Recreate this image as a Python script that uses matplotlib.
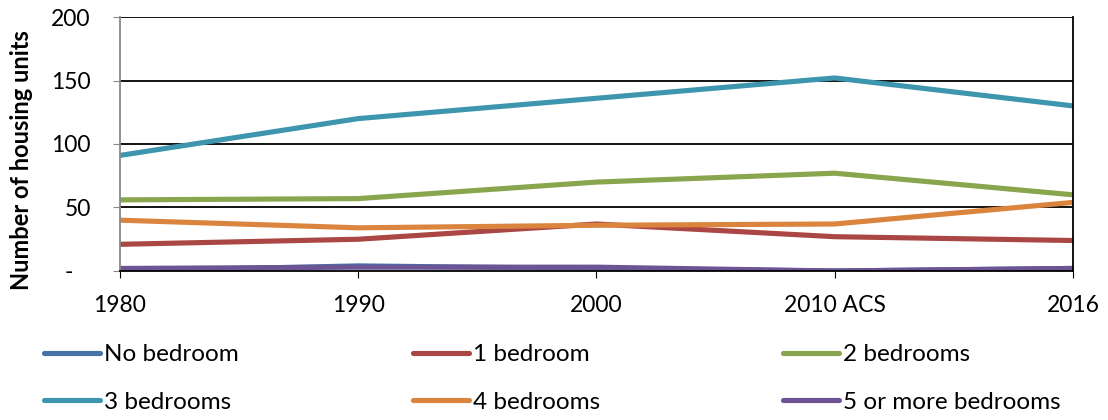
import matplotlib.pyplot as plt
from matplotlib.lines import Line2D
import numpy as np

plt.rcParams['font.family'] = ['Lato', 'DejaVu Sans']

years = ["1980", "1990", "2000", "2010 ACS", "2016"]

no_bedroom = [0, 4, 2, 0, 2]
one_bedroom = [21, 25, 37, 27, 24]
two_bedrooms = [56, 57, 70, 77, 60]
three_bedrooms = [91, 120, 136, 152, 130]
four_bedrooms = [40, 34, 36, 37, 54]
five_plus = [2, 3, 3, 0, 2]

series = [
    ("No bedroom", no_bedroom, "#4572A7"),
    ("1 bedroom", one_bedroom, "#AA4643"),
    ("2 bedrooms", two_bedrooms, "#89A54E"),
    ("3 bedrooms", three_bedrooms, "#3D96AE"),
    ("4 bedrooms", four_bedrooms, "#DB843D"),
    ("5 or more bedrooms", five_plus, "#6D5494"),
]

fig = plt.figure(figsize=(11.08, 4.2), dpi=100)
ax = fig.add_axes([0.1083, 0.3548, 0.86, 0.6047])

x = np.arange(len(years))
handles = []
for label, vals, color in series:
    ax.plot(x, vals, color=color, lw=3.7, solid_capstyle='butt')
    handles.append(Line2D([], [], color=color, lw=3.7, solid_capstyle='round', label=label))

ax.set_xlim(0, len(years) - 1)
ax.set_ylim(0, 200)
ax.set_yticks([0, 50, 100, 150, 200])
ax.set_yticklabels(["-   ", "50", "100", "150", "200"])
ax.set_xticks(x)
ax.set_xticklabels(years)
ax.tick_params(axis='both', labelsize=16.5)
ax.tick_params(axis='y', color='#888888', length=5, pad=16)
ax.tick_params(axis='x', color='black', length=5, pad=12)

for yv in [50, 100, 150, 200]:
    ax.axhline(yv, color='black', lw=1.3, zorder=0)

ax.spines['top'].set_visible(False)
ax.spines['left'].set_color('#888888')
ax.spines['left'].set_linewidth(1.3)
ax.spines['right'].set_color('black')
ax.spines['right'].set_linewidth(1.3)
ax.spines['bottom'].set_color('black')
ax.spines['bottom'].set_linewidth(1.3)

ax.set_ylabel("Number of housing units", fontsize=17, fontweight='bold')
ax.yaxis.set_label_coords(-0.0913, 0.437)

# legend: three columns, two rows, placed like the original
col_x = [44, 413, 783]
for k, cx in enumerate(col_x):
    leg = fig.legend(handles=[handles[k], handles[k + 3]], loc='center left',
                     bbox_to_anchor=(cx / 1108, 1 - 378.5 / 420), frameon=False,
                     fontsize=17.5, handlelength=2.3, handletextpad=0.17,
                     labelspacing=1.1, borderpad=0, borderaxespad=0)

fig.savefig("out.png", dpi=100)
